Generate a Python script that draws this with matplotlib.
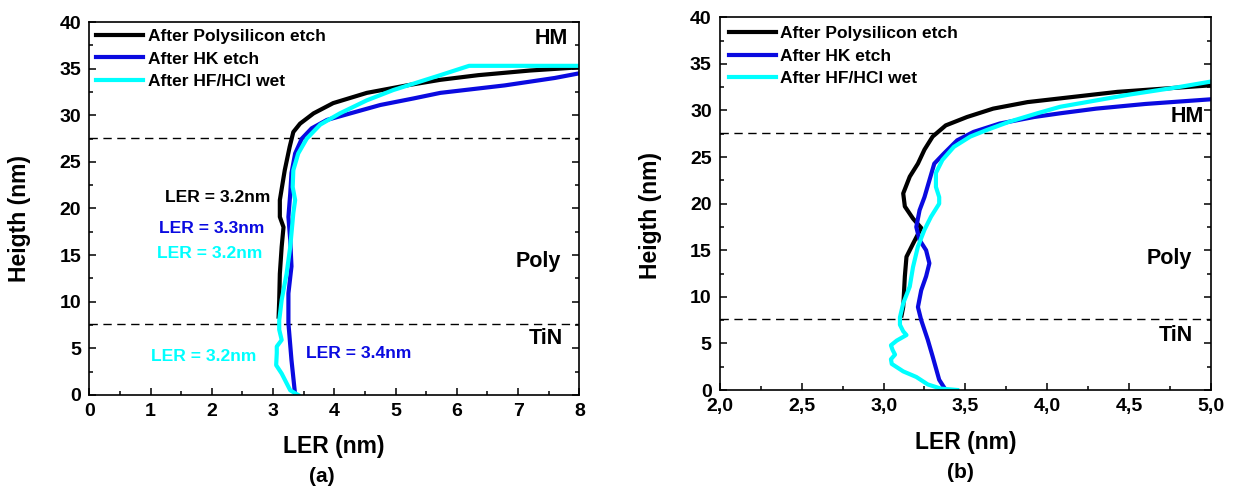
import matplotlib
matplotlib.use("Agg")
import matplotlib.pyplot as plt
from matplotlib.ticker import MultipleLocator, FuncFormatter

plt.rcParams["font.family"] = ["Liberation Sans", "DejaVu Sans"]
plt.rcParams["font.weight"] = "bold"

LABELS = ["After Polysilicon etch", "After HK etch", "After HF/HCl wet"]
COLORS = ["black", "#0a0ae0", "#00ffff"]

# ---- panel (a): LER (nm) vs height (nm)
a_poly_x = [3.09, 3.10, 3.11, 3.14, 3.17, 3.11, 3.11, 3.19, 3.27, 3.33, 3.44,
            3.66, 3.98, 4.53, 5.18, 5.73, 6.35, 7.2, 7.9, 8.0]
a_poly_y = [8.4, 10.2, 13.0, 15.9, 18.0, 19.1, 20.9, 24.1, 26.6, 28.2, 29.1,
            30.2, 31.3, 32.4, 33.2, 33.8, 34.3, 34.8, 35.1, 35.2]

a_hk_x = [3.36, 3.30, 3.25, 3.25, 3.30, 3.28, 3.25, 3.28, 3.30, 3.36, 3.47,
          3.63, 3.88, 4.26, 4.75, 5.29, 5.73, 6.78, 7.6, 8.0]
a_hk_y = [0.0, 3.75, 7.7, 10.9, 13.8, 16.6, 19.1, 21.6, 23.8, 25.9, 27.5,
          28.6, 29.5, 30.2, 31.1, 31.8, 32.4, 33.2, 34.0, 34.5]

a_wet_x = [3.41, 3.28, 3.14, 3.05, 3.06, 3.06, 3.14, 3.10, 3.10, 3.14, 3.22,
           3.28, 3.33, 3.36, 3.32, 3.33, 3.41, 3.55, 3.77, 4.09, 4.53, 4.96,
           5.73, 6.2, 8.0]
a_wet_y = [0.0, 0.5, 2.3, 3.2, 4.5, 5.2, 5.9, 7.0, 8.0, 10.2, 13.0, 15.9,
           19.5, 20.9, 22.3, 24.1, 25.9, 27.5, 29.0, 30.2, 31.6, 32.7, 34.3,
           35.3, 35.3]

# ---- panel (b): zoom on the same measurement, x from 2 to 5
b_poly_x = [3.11, 3.12, 3.13, 3.14, 3.18, 3.23, 3.18, 3.13, 3.12, 3.16, 3.21,
            3.25, 3.30, 3.38, 3.51, 3.67, 3.88, 4.43, 5.0]
b_poly_y = [8.0, 8.9, 12.2, 14.3, 15.7, 17.4, 18.4, 19.7, 21.1, 22.9, 24.3,
            25.8, 27.2, 28.4, 29.3, 30.2, 30.9, 32.0, 32.7]

b_hk_x = [3.38, 3.34, 3.30, 3.27, 3.23, 3.21, 3.23, 3.26, 3.28, 3.26, 3.22,
          3.20, 3.22, 3.25, 3.28, 3.31, 3.37, 3.45, 3.55, 3.71, 3.92, 4.08,
          4.3, 4.6, 5.0]
b_hk_y = [0.0, 1.1, 3.6, 5.4, 7.5, 8.9, 10.7, 12.2, 13.6, 15.0, 16.1, 17.5,
          19.3, 20.7, 22.5, 24.3, 25.4, 26.8, 27.7, 28.6, 29.3, 29.7, 30.2,
          30.7, 31.2]

b_wet_x = [3.45, 3.35, 3.27, 3.20, 3.12, 3.05, 3.045, 3.07, 3.055, 3.045, 3.08,
           3.14, 3.12, 3.10, 3.10, 3.12, 3.16, 3.18, 3.21, 3.25, 3.29, 3.34,
           3.34, 3.32, 3.32, 3.36, 3.43, 3.53, 3.63, 3.77, 3.94, 4.08, 4.5,
           4.8, 5.0]
b_wet_y = [0.0, 0.15, 0.6, 1.4, 2.0, 2.8, 3.3, 3.8, 4.3, 4.8, 5.3, 5.9, 6.3,
           7.0, 7.8, 9.3, 11.1, 13.2, 15.4, 17.2, 18.6, 20.0, 20.7, 21.8, 23.3,
           24.7, 26.1, 27.2, 27.9, 28.8, 29.7, 30.4, 31.7, 32.5, 33.1]

LAYER_TOP = 27.6   # hard mask / poly interface
LAYER_BOT = 7.65   # poly / TiN interface

fig = plt.figure(figsize=(12.34, 4.88), dpi=100)
ax_a = fig.add_axes([0.0724, 0.1906, 0.3971, 0.7643])
ax_b = fig.add_axes([0.5835, 0.2008, 0.3976, 0.7637])


def style_axes(ax, xmin, xmax, xmaj, xmin_step):
    ax.set_xlim(xmin, xmax)
    ax.set_ylim(0, 40)
    ax.xaxis.set_major_locator(MultipleLocator(xmaj))
    ax.xaxis.set_minor_locator(MultipleLocator(xmin_step))
    ax.yaxis.set_major_locator(MultipleLocator(5))
    ax.yaxis.set_minor_locator(MultipleLocator(2.5))
    ax.tick_params(which="both", direction="in", right=True, top=False,
                   width=1.1, labelsize=14, pad=6)
    ax.tick_params(which="major", length=5)
    ax.tick_params(which="minor", length=3)
    for s in ax.spines.values():
        s.set_linewidth(1.2)
    for lb in ax.get_xticklabels() + ax.get_yticklabels():
        lb.set_fontweight("bold")
    ax.axhline(LAYER_TOP, color="black", lw=1.0, ls=(0, (6, 4)), zorder=1)
    ax.axhline(LAYER_BOT, color="black", lw=1.0, ls=(0, (6, 4)), zorder=1)


def draw(ax, curves, pad):
    for (x, y), lab, c in zip(curves, LABELS, COLORS):
        ax.plot(x, y, color=c, lw=3.0, label=lab, solid_joinstyle="round")
    ax.legend(loc="upper left", frameon=False,
              handlelength=2.7, handletextpad=0.25, labelspacing=0.42,
              borderpad=0.2, borderaxespad=pad,
              prop={"weight": "bold", "size": 12.5})


style_axes(ax_a, 0, 8, 1, 0.5)
draw(ax_a, [(a_poly_x, a_poly_y), (a_hk_x, a_hk_y), (a_wet_x, a_wet_y)], 0.2)

style_axes(ax_b, 2, 5, 0.5, 0.25)
ax_b.xaxis.set_major_formatter(FuncFormatter(lambda v, p: f"{v:.1f}".replace(".", ",")))
for lb in ax_b.get_xticklabels():
    lb.set_fontweight("bold")
draw(ax_b, [(b_poly_x, b_poly_y), (b_hk_x, b_hk_y), (b_wet_x, b_wet_y)], 0.3)

# layer names
kw = dict(fontsize=15.5, fontweight="bold", ha="center", va="center")
ax_a.text(7.55, 38.2, "HM", **kw)
ax_a.text(7.33, 14.3, "Poly", **kw)
ax_a.text(7.46, 6.1, "TiN", **kw)
ax_b.text(4.86, 29.4, "HM", **kw)
ax_b.text(4.75, 14.1, "Poly", **kw)
ax_b.text(4.79, 5.8, "TiN", **kw)

# LER values
kw = dict(fontsize=12.6, fontweight="bold", ha="left", va="center")
ax_a.text(1.23, 21.2, "LER = 3.2nm", color=COLORS[0], **kw)
ax_a.text(1.14, 17.9, "LER = 3.3nm", color=COLORS[1], **kw)
ax_a.text(1.11, 15.2, "LER = 3.2nm", color=COLORS[2], **kw)
ax_a.text(1.00, 4.1, "LER = 3.2nm", color=COLORS[2], **kw)
ax_a.text(3.54, 4.5, "LER = 3.4nm", color=COLORS[1], **kw)

# axis titles
H = 488.0
W = 1234.0
fig.text(20 / W, 1 - 218 / H, "Heigth (nm)", rotation=90, ha="center",
         va="center", fontsize=16.5, fontweight="bold")
fig.text(650 / W, 1 - 215 / H, "Heigth (nm)", rotation=90, ha="center",
         va="center", fontsize=16.5, fontweight="bold")
fig.text(334 / W, 1 - 447 / H, "LER (nm)", ha="center", va="center",
         fontsize=16.5, fontweight="bold")
fig.text(966 / W, 1 - 443 / H, "LER (nm)", ha="center", va="center",
         fontsize=16.5, fontweight="bold")
fig.text(322 / W, 1 - 476 / H, "(a)", ha="center", va="center",
         fontsize=15, fontweight="bold")
fig.text(960 / W, 1 - 473 / H, "(b)", ha="center", va="center",
         fontsize=15, fontweight="bold")

fig.savefig("out.png", dpi=100, facecolor="white")
